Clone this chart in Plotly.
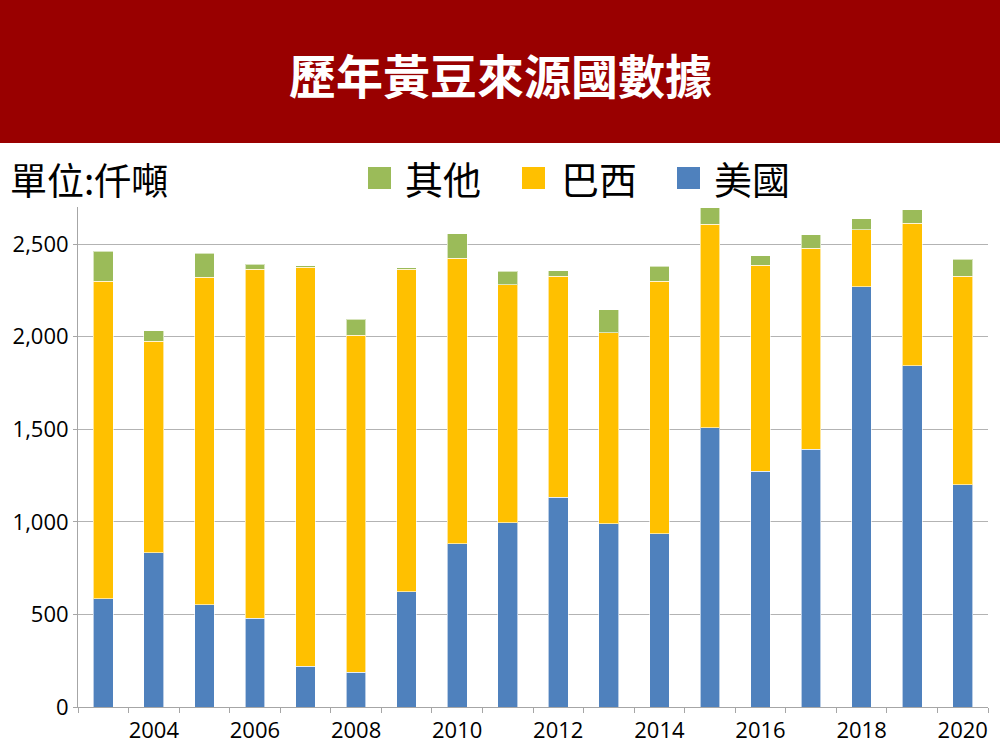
import plotly.graph_objects as go

years = list(range(2003, 2021))
usa = [584, 832, 552, 480, 221, 189, 622, 881, 994, 1132, 989, 936, 1508, 1274, 1393, 2270, 1842, 1200]
brazil = [1715, 1143, 1770, 1884, 2155, 1819, 1742, 1542, 1285, 1195, 1033, 1363, 1100, 1111, 1084, 307, 771, 1127]
other = [162, 56, 129, 27, 7, 86, 7, 133, 74, 30, 124, 81, 88, 52, 72, 60, 72, 90]
series_names = ["美國", "巴西", "其他"]
colors = ["#4F81BD", "#FFC000", "#9BBB59"]
x_labels = [str(y) for y in range(2004, 2021, 2)]

W, H = 1000, 750
L, R, T, B = 78, 12, 207, 43
pw, ph = W - L - R, H - T - B

def px_x(px):
    return (px - L) / pw

def px_y(py):
    return (H - B - py) / ph

fig = go.Figure()
for name, vals, c in zip(series_names, [usa, brazil, other], colors):
    fig.add_trace(go.Bar(x=years, y=vals, name=name, showlegend=False,
                         marker=dict(color=c, line=dict(color="rgba(255,255,255,0.6)", width=1))))

fig.update_layout(
    width=W, height=H,
    margin=dict(l=L, r=R, t=T, b=B, autoexpand=False),
    barmode="stack",
    bargap=0.61,
    plot_bgcolor="white",
    paper_bgcolor="white",
    font=dict(family="Noto Sans CJK TC, Open Sans, sans-serif", color="black"),
    xaxis=dict(
        range=[2002.5, 2020.5],
        tickmode="array", tickvals=list(range(2004, 2021, 2)), ticktext=x_labels,
        ticks="", showgrid=False, automargin=False,
        showline=True, linecolor="#a6a6a6", linewidth=1,
        tickfont=dict(size=22, family="Open Sans"),
        ticklabelstandoff=4,
        minor=dict(ticks="outside", tick0=2002.5, dtick=1, ticklen=5, tickcolor="#a6a6a6", showgrid=False),
        fixedrange=True,
    ),
    yaxis=dict(
        range=[0, 2700], automargin=False,
        tickmode="array", tickvals=[0, 500, 1000, 1500, 2000, 2500],
        tickformat=",",
        showgrid=True, gridcolor="#b3b3b3", gridwidth=1,
        showline=True, linecolor="#a6a6a6", linewidth=1,
        ticks="outside", ticklen=4, tickcolor="#a6a6a6",
        tickfont=dict(size=22, family="Open Sans"),
        zeroline=False,
    ),
)

# red banner
fig.add_shape(type="rect", xref="paper", yref="paper",
              x0=px_x(0), x1=px_x(W), y0=px_y(143), y1=px_y(0),
              fillcolor="#990000", line=dict(width=0), layer="above")
fig.add_annotation(text="<b>歷年黃豆來源國數據</b>", xref="paper", yref="paper",
                   x=px_x(500), y=px_y(73), xanchor="center", yanchor="middle",
                   showarrow=False, font=dict(size=47, color="white", family="Noto Sans CJK TC"))
fig.add_annotation(text="單位:仟噸", xref="paper", yref="paper",
                   x=px_x(8), y=px_y(179), xanchor="left", yanchor="middle",
                   showarrow=False, font=dict(size=37, color="black", family="Noto Sans CJK TC"))

# legend (top row): order 其他, 巴西, 美國
legend_items = [("其他", colors[2], 368, 403), ("巴西", colors[1], 522, 559), ("美國", colors[0], 677, 712)]
for text, c, sq_x, tx in legend_items:
    fig.add_shape(type="rect", xref="paper", yref="paper",
                  x0=px_x(sq_x), x1=px_x(sq_x + 23), y0=px_y(189), y1=px_y(167),
                  fillcolor=c, line=dict(width=0))
    fig.add_annotation(text=text, xref="paper", yref="paper",
                       x=px_x(tx), y=px_y(178), xanchor="left", yanchor="middle",
                       showarrow=False, font=dict(size=38, color="black", family="Noto Sans CJK TC"))

fig.write_html("out.html", config={"displayModeBar": False},
               post_script="document.body.style.margin='0';")
